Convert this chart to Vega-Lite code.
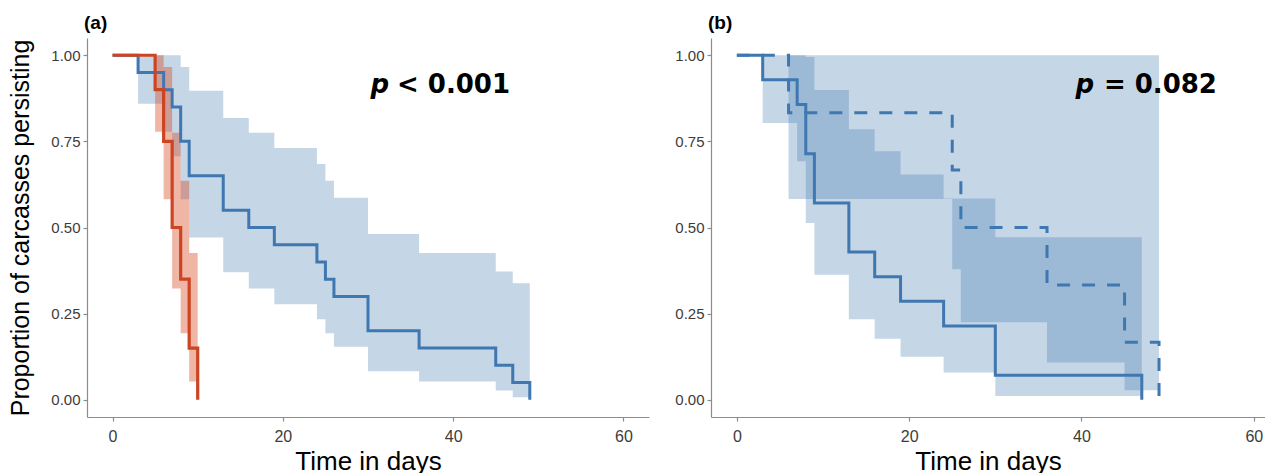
{
  "$schema": "https://vega.github.io/schema/vega-lite/v6.json",
  "background": "white",
  "padding": {"left": 8, "top": 14, "right": 0, "bottom": 0},
  "spacing": 62,
  "bounds": "flush",
  "config": {
    "font": "Liberation Sans",
    "view": {"stroke": null},
    "axis": {
      "grid": false,
      "domainColor": "#8c8c8c",
      "domainWidth": 1.2,
      "tickColor": "#8c8c8c",
      "tickWidth": 1.2,
      "tickSize": 4,
      "labelColor": "#3c3c3c",
      "labelFont": "Liberation Sans",
      "titleFont": "Liberation Sans",
      "titleColor": "#000000",
      "titleFontWeight": "normal"
    },
    "title": {"fontSize": 19, "fontWeight": "bold", "anchor": "start", "font": "Liberation Sans", "frame": "group", "offset": 5, "color": "#000000", "dx": -3}
  },
  "datasets": {
    "aBlue": [
      {"day": 0, "surv": 1}, {"day": 3, "surv": 0.95}, {"day": 6, "surv": 0.9}, {"day": 7, "surv": 0.85},
      {"day": 8, "surv": 0.75}, {"day": 9, "surv": 0.65}, {"day": 13, "surv": 0.55}, {"day": 16, "surv": 0.5},
      {"day": 19, "surv": 0.45}, {"day": 24, "surv": 0.4}, {"day": 25, "surv": 0.35}, {"day": 26, "surv": 0.3},
      {"day": 30, "surv": 0.2}, {"day": 36, "surv": 0.15}, {"day": 45, "surv": 0.1}, {"day": 47, "surv": 0.05},
      {"day": 49, "surv": 0}
    ],
    "aRed": [
      {"day": 0, "surv": 1}, {"day": 5, "surv": 0.9}, {"day": 6, "surv": 0.75}, {"day": 7, "surv": 0.5},
      {"day": 8, "surv": 0.35}, {"day": 9, "surv": 0.15}, {"day": 10, "surv": 0}
    ],
    "aBlueCI": [
      {"day": 3, "lo": 0.859, "hi": 1}, {"day": 6, "lo": 0.778, "hi": 1}, {"day": 7, "lo": 0.707, "hi": 1},
      {"day": 8, "lo": 0.582, "hi": 0.966}, {"day": 9, "lo": 0.471, "hi": 0.897}, {"day": 13, "lo": 0.37, "hi": 0.818},
      {"day": 16, "lo": 0.323, "hi": 0.775}, {"day": 19, "lo": 0.277, "hi": 0.731}, {"day": 24, "lo": 0.234, "hi": 0.684},
      {"day": 25, "lo": 0.193, "hi": 0.636}, {"day": 26, "lo": 0.154, "hi": 0.586}, {"day": 30, "lo": 0.083, "hi": 0.481},
      {"day": 36, "lo": 0.053, "hi": 0.426}, {"day": 45, "lo": 0.027, "hi": 0.372}, {"day": 47, "lo": 0.0074, "hi": 0.338},
      {"day": 49, "lo": 0.0074, "hi": 0.338}
    ],
    "aRedCI": [
      {"day": 5, "lo": 0.778, "hi": 1}, {"day": 6, "lo": 0.582, "hi": 0.966}, {"day": 7, "lo": 0.323, "hi": 0.775},
      {"day": 8, "lo": 0.193, "hi": 0.636}, {"day": 9, "lo": 0.053, "hi": 0.426}, {"day": 10, "lo": 0.053, "hi": 0.426}
    ],
    "bSolid": [
      {"day": 0, "surv": 1}, {"day": 3, "surv": 0.929}, {"day": 7, "surv": 0.857}, {"day": 8, "surv": 0.714},
      {"day": 9, "surv": 0.571}, {"day": 13, "surv": 0.429}, {"day": 16, "surv": 0.357}, {"day": 19, "surv": 0.286},
      {"day": 24, "surv": 0.214}, {"day": 30, "surv": 0.071}, {"day": 47, "surv": 0}
    ],
    "bDashed": [
      {"day": 0, "surv": 1}, {"day": 6, "surv": 0.833}, {"day": 25, "surv": 0.667}, {"day": 26, "surv": 0.5},
      {"day": 36, "surv": 0.333}, {"day": 45, "surv": 0.167}, {"day": 49, "surv": 0}
    ],
    "bSolidCI": [
      {"day": 3, "lo": 0.803, "hi": 1}, {"day": 7, "lo": 0.692, "hi": 1}, {"day": 8, "lo": 0.513, "hi": 0.995},
      {"day": 9, "lo": 0.363, "hi": 0.899}, {"day": 13, "lo": 0.234, "hi": 0.785}, {"day": 16, "lo": 0.177, "hi": 0.721},
      {"day": 19, "lo": 0.125, "hi": 0.654}, {"day": 24, "lo": 0.079, "hi": 0.584}, {"day": 30, "lo": 0.011, "hi": 0.472},
      {"day": 47, "lo": 0.011, "hi": 0.472}
    ],
    "bDashedCI": [
      {"day": 6, "lo": 0.583, "hi": 1}, {"day": 25, "lo": 0.379, "hi": 1}, {"day": 26, "lo": 0.225, "hi": 1},
      {"day": 36, "lo": 0.108, "hi": 1}, {"day": 45, "lo": 0.028, "hi": 1}, {"day": 49, "lo": 0.028, "hi": 1}
    ],
    "notes": [
      {"panel": "a", "part": "sym", "day": 30.3, "prop": 0.89, "txt": "p"},
      {"panel": "a", "part": "val", "day": 33.4, "prop": 0.89, "txt": "< 0.001"},
      {"panel": "b", "part": "sym", "day": 39.3, "prop": 0.89, "txt": "p"},
      {"panel": "b", "part": "val", "day": 42.6, "prop": 0.89, "txt": "= 0.082"}
    ]
  },
  "hconcat": [
    {
      "title": {"text": "(a)"},
      "width": 562,
      "height": 379,
      "encoding": {
        "x": {
          "field": "day", "type": "quantitative",
          "scale": {"domain": [-3, 63], "nice": false, "zero": false},
          "axis": {"values": [0, 20, 40, 60], "labelFontSize": 16, "labelPadding": 7, "title": "Time in days", "titleFontSize": 26, "titlePadding": 4}
        }
      },
      "layer": [
        {
          "data": {"name": "aBlueCI"},
          "mark": {"type": "area", "interpolate": "step-after", "color": "#3f78b1", "opacity": 0.3},
          "encoding": {
            "y": {"field": "lo", "type": "quantitative", "scale": {"domain": [-0.05, 1.05], "nice": false, "zero": false},
                  "axis": {"values": [0, 0.25, 0.5, 0.75, 1], "format": ".2f", "labelFontSize": 15, "labelPadding": 3, "minExtent": 36, "maxExtent": 36, "title": "Proportion of carcasses persisting", "titleFontSize": 25, "titlePadding": 18}},
            "y2": {"field": "hi"}
          }
        },
        {
          "data": {"name": "aRedCI"},
          "mark": {"type": "area", "interpolate": "step-after", "color": "#d8481e", "opacity": 0.4},
          "encoding": {
            "y": {"field": "lo", "type": "quantitative", "scale": {"domain": [-0.05, 1.05], "nice": false, "zero": false}},
            "y2": {"field": "hi"}
          }
        },
        {
          "data": {"name": "aBlue"},
          "mark": {"type": "line", "interpolate": "step-after", "color": "#3f78b1", "strokeWidth": 3},
          "encoding": {
            "y": {"field": "surv", "type": "quantitative", "scale": {"domain": [-0.05, 1.05], "nice": false, "zero": false}}
          }
        },
        {
          "data": {"name": "aRed"},
          "mark": {"type": "line", "interpolate": "step-after", "color": "#cc4422", "strokeWidth": 3.2},
          "encoding": {
            "y": {"field": "surv", "type": "quantitative", "scale": {"domain": [-0.05, 1.05], "nice": false, "zero": false}}
          }
        },
        {
          "data": {"name": "notes"},
          "transform": [{"filter": "datum.panel === 'a' && datum.part === 'sym'"}],
          "mark": {"type": "text", "font": "DejaVu Sans", "fontWeight": "bold", "fontStyle": "italic", "fontSize": 26, "align": "left", "baseline": "alphabetic", "color": "#000000"},
          "encoding": {
            "y": {"field": "prop", "type": "quantitative", "scale": {"domain": [-0.05, 1.05], "nice": false, "zero": false}},
            "text": {"field": "txt"}
          }
        },
        {
          "data": {"name": "notes"},
          "transform": [{"filter": "datum.panel === 'a' && datum.part === 'val'"}],
          "mark": {"type": "text", "font": "DejaVu Sans", "fontWeight": "bold", "fontSize": 26, "align": "left", "baseline": "alphabetic", "color": "#000000"},
          "encoding": {
            "y": {"field": "prop", "type": "quantitative", "scale": {"domain": [-0.05, 1.05], "nice": false, "zero": false}},
            "text": {"field": "txt"}
          }
        }
      ]
    },
    {
      "title": {"text": "(b)"},
      "width": 554,
      "height": 379,
      "encoding": {
        "x": {
          "field": "day", "type": "quantitative",
          "scale": {"domain": [-3, 61.3], "nice": false, "zero": false},
          "axis": {"values": [0, 20, 40, 60], "labelFontSize": 16, "labelPadding": 7, "title": "Time in days", "titleFontSize": 26, "titlePadding": 4}
        }
      },
      "layer": [
        {
          "data": {"name": "bSolidCI"},
          "mark": {"type": "area", "interpolate": "step-after", "color": "#3f78b1", "opacity": 0.3},
          "encoding": {
            "y": {"field": "lo", "type": "quantitative", "scale": {"domain": [-0.05, 1.05], "nice": false, "zero": false},
                  "axis": {"values": [0, 0.25, 0.5, 0.75, 1], "format": ".2f", "labelFontSize": 15, "labelPadding": 3, "minExtent": 36, "maxExtent": 36, "title": null}},
            "y2": {"field": "hi"}
          }
        },
        {
          "data": {"name": "bDashedCI"},
          "mark": {"type": "area", "interpolate": "step-after", "color": "#3f78b1", "opacity": 0.3},
          "encoding": {
            "y": {"field": "lo", "type": "quantitative", "scale": {"domain": [-0.05, 1.05], "nice": false, "zero": false}},
            "y2": {"field": "hi"}
          }
        },
        {
          "data": {"name": "bSolid"},
          "mark": {"type": "line", "interpolate": "step-after", "color": "#3f78b1", "strokeWidth": 3},
          "encoding": {
            "y": {"field": "surv", "type": "quantitative", "scale": {"domain": [-0.05, 1.05], "nice": false, "zero": false}}
          }
        },
        {
          "data": {"name": "bDashed"},
          "mark": {"type": "line", "interpolate": "step-after", "color": "#3f78b1", "strokeWidth": 3, "strokeDash": [13, 12]},
          "encoding": {
            "y": {"field": "surv", "type": "quantitative", "scale": {"domain": [-0.05, 1.05], "nice": false, "zero": false}}
          }
        },
        {
          "data": {"name": "notes"},
          "transform": [{"filter": "datum.panel === 'b' && datum.part === 'sym'"}],
          "mark": {"type": "text", "font": "DejaVu Sans", "fontWeight": "bold", "fontStyle": "italic", "fontSize": 26, "align": "left", "baseline": "alphabetic", "color": "#000000"},
          "encoding": {
            "y": {"field": "prop", "type": "quantitative", "scale": {"domain": [-0.05, 1.05], "nice": false, "zero": false}},
            "text": {"field": "txt"}
          }
        },
        {
          "data": {"name": "notes"},
          "transform": [{"filter": "datum.panel === 'b' && datum.part === 'val'"}],
          "mark": {"type": "text", "font": "DejaVu Sans", "fontWeight": "bold", "fontSize": 26, "align": "left", "baseline": "alphabetic", "color": "#000000"},
          "encoding": {
            "y": {"field": "prop", "type": "quantitative", "scale": {"domain": [-0.05, 1.05], "nice": false, "zero": false}},
            "text": {"field": "txt"}
          }
        }
      ]
    }
  ]
}
